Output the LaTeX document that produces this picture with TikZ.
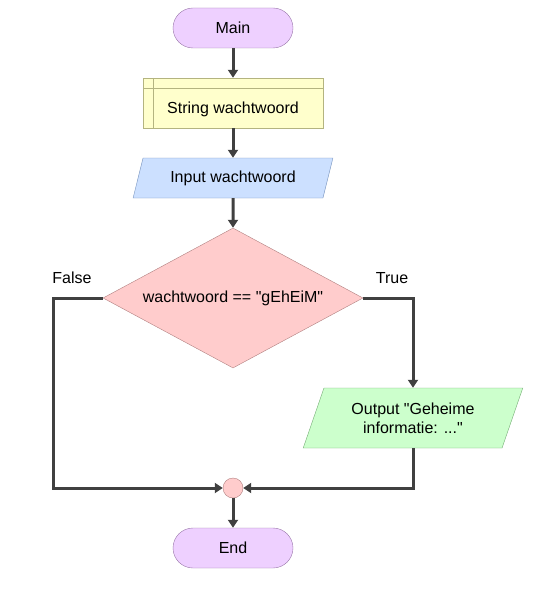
\documentclass[tikz,border=0pt]{standalone}
\usepackage{xcolor}
\usepackage{fontspec}
\setmainfont{Liberation Sans}
\usepackage{tikz}
\usetikzlibrary{arrows.meta,positioning,calc,shapes}

\definecolor{termfill}{HTML}{EED0FF}
\definecolor{termline}{HTML}{9A78AA}
\definecolor{declfill}{HTML}{FFFFCC}
\definecolor{declline}{HTML}{B4B480}
\definecolor{infill}{HTML}{CCE0FF}
\definecolor{inline}{HTML}{7490BC}
\definecolor{decfill}{HTML}{FFCCCC}
\definecolor{decline}{HTML}{B08080}
\definecolor{outfill}{HTML}{CCFFCC}
\definecolor{outline}{HTML}{74AC74}
\definecolor{flowline}{HTML}{404040}

\begin{document}
\begin{tikzpicture}[x=1pt, y=-1pt, every node/.style={font=\fontsize{16}{19}\selectfont},
    term/.style={draw=termline, fill=termfill, rounded corners=20pt, minimum width=120pt, minimum height=40pt},
    declbox/.style={draw=declline, fill=declfill, minimum width=180pt, minimum height=50pt},
    iobox/.style={trapezium, trapezium left angle=65, trapezium right angle=115, trapezium stretches=true, inner sep=0pt, align=center},
    flow/.style={line width=3pt, draw=flowline, -{Triangle[length=8pt, width=10pt]}}]
    \useasboundingbox (0,0) rectangle (543,591);

    % Main
    \node[term] (main) at (233,28) {Main};

    % Declaration box
    \node[declbox, text height=24pt, text depth=3pt] (decl) at (233,103) {String wachtwoord};
    \draw[declline] ([xshift=10pt]decl.north west) -- ([xshift=10pt]decl.south west);
    \draw[declline] ([yshift=-10pt]decl.north west) -- ([yshift=-10pt]decl.north east);

    % Input
    \node[iobox, draw=inline, fill=infill, minimum width=200pt, minimum height=40pt] (input) at (233,178) {Input wachtwoord};

    % Decision
    \node[diamond, draw=decline, fill=decfill, inner sep=0pt, aspect=1.85, minimum width=260pt, minimum height=140pt] (dec) at (233,298) {wachtwoord == \textquotedbl gEhEiM\textquotedbl};
    \node (false) at (72,278) {False};
    \node (true) at (392,278) {True};

    % Output
    \node[iobox, draw=outline, fill=outfill, minimum width=220pt, minimum height=60pt] (output) at (413,418) {Output \textquotedbl Geheime\\ informatie: ...\textquotedbl};

    % Join and End
    \node[circle, draw=decline, fill=decfill, minimum size=20pt, inner sep=0pt] (join) at (233,488) {};
    \node[term] (end) at (233,548) {End};
    \coordinate (falsecorner) at (53,488);

    % Connectors
    \draw[flow] (main) -- (decl);
    \draw[flow] (decl) -- (input);
    \draw[flow] (input) -- (dec);
    \draw[flow] (dec.east) -| (output);
    \draw[flow] (dec.west) -| (falsecorner) -- (join);
    \draw[flow] (output) |- (join);
    \draw[flow] (join) -- (end);
\end{tikzpicture}
\end{document}
